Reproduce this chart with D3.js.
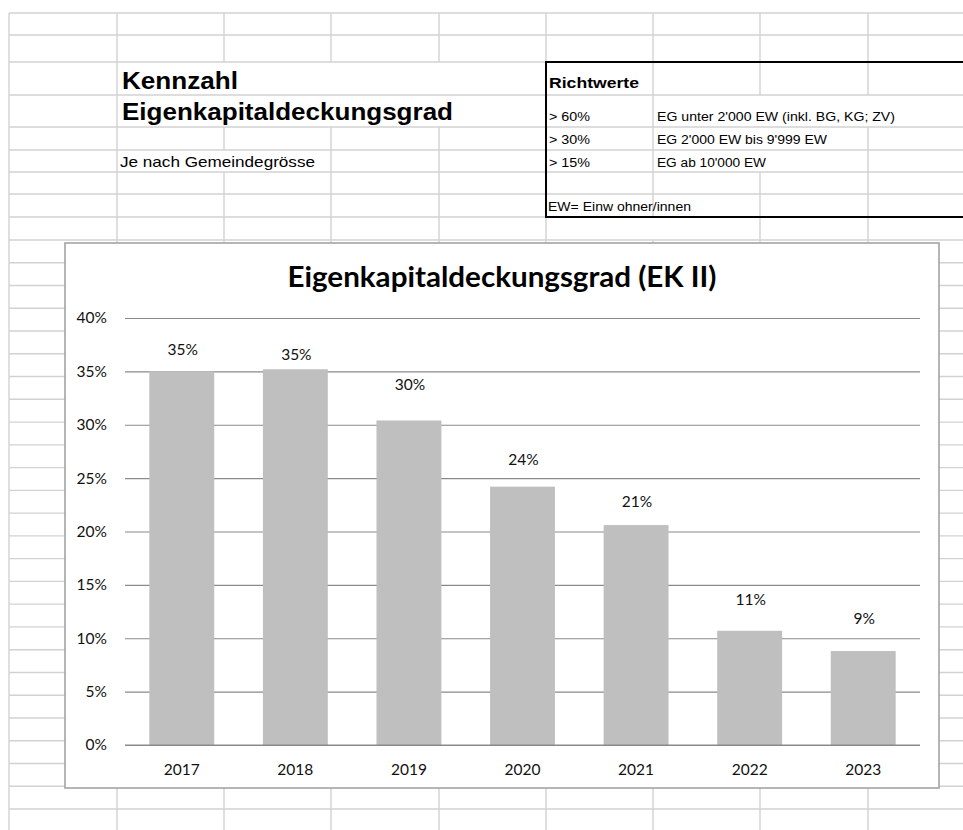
<!DOCTYPE html>
<html>
<head>
<meta charset="utf-8">
<script src="https://cdn.jsdelivr.net/npm/d3@7"></script>
<style>
  body { margin: 0; background: #fff; }
  svg { display: block; }
</style>
</head>
<body>
<svg></svg>
<script>
// chart data
var years = ["2017", "2018", "2019", "2020", "2021", "2022", "2023"];
var values = [0.350, 0.352, 0.304, 0.242, 0.206, 0.107, 0.088];
var yTicks = [0, 0.05, 0.10, 0.15, 0.20, 0.25, 0.30, 0.35, 0.40];
var chartTitle = "Eigenkapitaldeckungsgrad (EK II)";
// how far each value label sits above its bar (px), labels were moved by hand in the original
var labelNudge = [22, 15, 36, 27, 24, 31, 32];

// sheet text
var sheetTitle = ["Kennzahl", "Eigenkapitaldeckungsgrad"];
var sheetNote = "Je nach Gemeindegrösse";
var refHead = "Richtwerte";
var refLimits = ["> 60%", "> 30%", "> 15%"];
var refGroups = ["EG unter 2'000 EW (inkl. BG, KG; ZV)", "EG 2'000 EW bis 9'999 EW", "EG ab 10'000 EW"];
var refFoot = "EW= Einw ohner/innen";

var width = 963;
var height = 830;

var svg = d3.select("svg")
    .attr("width", width)
    .attr("height", height);

// ---- spreadsheet grid ----
var colX = [9, 117, 224, 331, 439, 546, 653, 760, 868, 975];
var rowY = [13, 35, 62, 95, 127, 150, 172, 194, 217];
for (var k = 0; k <= 26; k++) rowY.push(240 + k * 22.76);

// vertical segments hidden by merged cells / overflowing text: "col,row"
var hidden = ["224,2", "331,2", "439,2", "224,3", "331,3", "439,3", "760,3", "868,3",
              "760,4", "224,5", "760,5", "653,8"];

var grid = svg.append("g")
    .attr("stroke", "#d2d2d2")
    .attr("stroke-width", 1.4);

rowY.forEach(function(y) {
  grid.append("line").attr("x1", 9).attr("x2", width).attr("y1", y).attr("y2", y);
});
colX.forEach(function(x) {
  for (var i = 0; i < rowY.length - 1; i++) {
    if (hidden.indexOf(x + "," + i) >= 0) continue;
    grid.append("line").attr("x1", x).attr("x2", x).attr("y1", rowY[i]).attr("y2", rowY[i + 1]);
  }
});

// Richtwerte box
svg.append("rect")
    .attr("x", 546).attr("y", 62)
    .attr("width", 440).attr("height", 155)
    .attr("fill", "none")
    .attr("stroke", "#000")
    .attr("stroke-width", 2);

function sheetText(str, x, y, size, bold, len) {
  svg.append("text")
      .attr("x", x).attr("y", y)
      .attr("font-family", "'Liberation Sans', Arial, sans-serif")
      .attr("font-size", size)
      .attr("font-weight", bold ? "bold" : "normal")
      .attr("fill", "#000")
      .attr("textLength", len)
      .attr("lengthAdjust", "spacingAndGlyphs")
      .text(str);
}

sheetText(sheetTitle[0], 122, 88.5, 23, true, 116);
sheetText(sheetTitle[1], 122, 120, 23, true, 331);
sheetText(sheetNote, 120, 166.5, 15, false, 195);

sheetText(refHead, 549, 88, 15, true, 90);
var refBase = [121, 144, 167];
var refLen = [238, 170, 109];
refLimits.forEach(function(t, i) { sheetText(t, 549, refBase[i], 12.5, false, 41); });
refGroups.forEach(function(t, i) { sheetText(t, 657, refBase[i], 12.5, false, refLen[i]); });
sheetText(refFoot, 548, 210.5, 12.5, false, 143);

// ---- embedded chart ----
var box = { x: 65, y: 243, w: 874, h: 545 };

svg.append("rect")
    .attr("x", box.x).attr("y", box.y)
    .attr("width", box.w).attr("height", box.h)
    .attr("fill", "#fff")
    .attr("stroke", "#a3a3a3")
    .attr("stroke-width", 1.6);

svg.append("text")
    .attr("x", box.x + box.w / 2)
    .attr("y", 287)
    .attr("text-anchor", "middle")
    .attr("font-family", "Lato, sans-serif")
    .attr("font-weight", "bold")
    .attr("font-size", 28)
    .attr("fill", "#000")
    .attr("textLength", 429)
    .attr("lengthAdjust", "spacingAndGlyphs")
    .text(chartTitle);

var x = d3.scaleBand()
    .domain(years)
    .range([125, 920])
    .paddingInner(0.4286)
    .paddingOuter(0.2143);

var y = d3.scaleLinear()
    .domain([0, 0.40])
    .range([745, 318]);

var yAxis = svg.append("g")
    .attr("transform", "translate(125,0)")
    .call(d3.axisLeft(y)
      .tickValues(yTicks)
      .tickFormat(d3.format(".0%"))
      .tickSizeInner(-(920 - 125))
      .tickSizeOuter(0)
      .tickPadding(18));
yAxis.select(".domain").remove();
yAxis.selectAll(".tick line").attr("stroke", "#8a8a8a").attr("stroke-width", 1.2);
yAxis.selectAll(".tick text")
    .attr("font-family", "Lato, sans-serif")
    .attr("font-size", 15.5)
    .attr("fill", "#111");

svg.selectAll("rect.bar")
    .data(values)
    .enter()
    .append("rect")
      .attr("class", "bar")
      .attr("x", function(d, i) { return x(years[i]); })
      .attr("y", function(d) { return y(d); })
      .attr("width", x.bandwidth())
      .attr("height", function(d) { return y(0) - y(d); })
      .attr("fill", "#bfbfbf");

// the 0% line sits on top of the bars
svg.append("line")
    .attr("x1", 125).attr("x2", 920)
    .attr("y1", y(0)).attr("y2", y(0))
    .attr("stroke", "#8a8a8a")
    .attr("stroke-width", 1.2);

svg.selectAll("text.val")
    .data(values)
    .enter()
    .append("text")
      .attr("class", "val")
      .attr("x", function(d, i) { return x(years[i]) + x.bandwidth() / 2 + 1; })
      .attr("y", function(d, i) { return y(d) - labelNudge[i]; })
      .attr("dy", "0.35em")
      .attr("text-anchor", "middle")
      .attr("font-family", "Lato, sans-serif")
      .attr("font-size", 15.5)
      .attr("fill", "#111")
      .text(function(d) { return d3.format(".0%")(d); });

var xAxis = svg.append("g")
    .attr("transform", "translate(0," + y(0) + ")")
    .call(d3.axisBottom(x).tickSize(0).tickPadding(19));
xAxis.select(".domain").remove();
xAxis.selectAll(".tick text")
    .attr("font-family", "Lato, sans-serif")
    .attr("font-size", 15.5)
    .attr("fill", "#111");
</script>
</body>
</html>
